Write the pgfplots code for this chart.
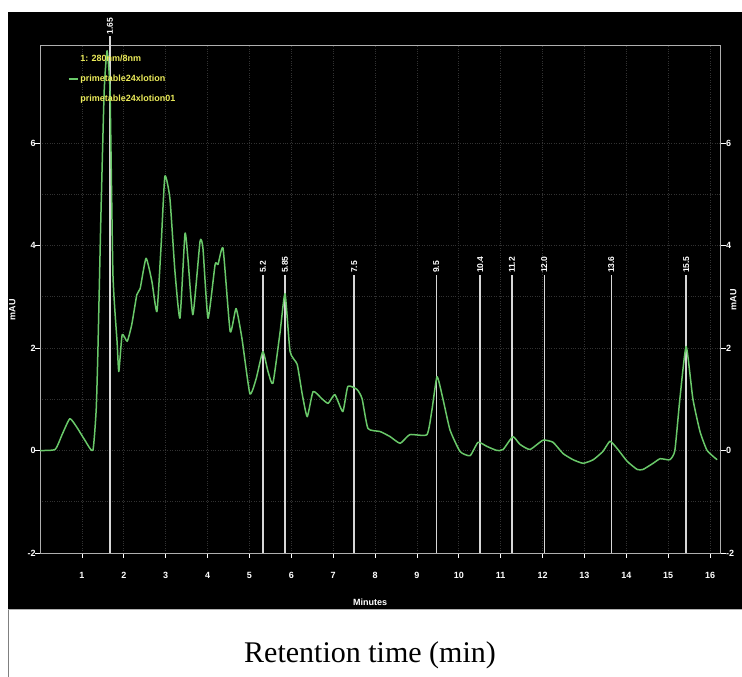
\documentclass[border=0pt]{standalone}
\usepackage{fontspec}
\setmainfont{Liberation Serif}
\newfontfamily\lsans{Liberation Sans}
\usepackage{pgfplots}
\usepackage{pgfplotstable}
\pgfplotsset{compat=1.18}

\definecolor{trace}{RGB}{105,200,105}
\definecolor{legyellow}{RGB}{235,235,90}
\definecolor{gridc}{RGB}{50,50,50}
\definecolor{axc}{RGB}{175,175,175}
\definecolor{vline}{RGB}{215,215,215}

\pgfplotstableread{
x y
0.00 0.00
0.36 0.02
0.52 0.30
0.71 0.62
0.88 0.45
1.07 0.20
1.26 0.00
1.34 0.80
1.38 1.93
1.45 4.50
1.53 7.00
1.60 7.80
1.67 7.00
1.74 3.43
1.84 2.10
1.88 1.54
1.96 2.26
2.08 2.13
2.19 2.46
2.31 3.04
2.39 3.16
2.53 3.75
2.67 3.30
2.79 2.71
2.89 4.00
2.98 5.35
3.10 4.92
3.22 3.50
3.34 2.58
3.46 4.23
3.53 3.75
3.65 2.65
3.82 4.08
3.89 3.94
4.01 2.58
4.18 3.63
4.25 3.63
4.37 3.94
4.54 2.32
4.68 2.77
4.82 2.19
5.01 1.11
5.16 1.40
5.32 1.93
5.44 1.55
5.56 1.31
5.73 2.30
5.85 3.06
5.97 1.93
6.14 1.68
6.26 1.10
6.38 0.66
6.52 1.15
6.73 1.01
6.88 0.92
7.04 1.09
7.23 0.76
7.35 1.25
7.57 1.19
7.69 1.01
7.83 0.43
8.12 0.37
8.36 0.27
8.60 0.14
8.83 0.31
9.24 0.31
9.36 0.80
9.48 1.44
9.62 1.01
9.79 0.40
10.03 -0.02
10.27 -0.10
10.46 0.16
10.67 0.08
10.91 0.00
11.06 0.02
11.29 0.27
11.46 0.12
11.70 0.02
12.01 0.20
12.25 0.16
12.49 -0.06
12.73 -0.18
12.97 -0.25
13.21 -0.18
13.44 -0.02
13.61 0.18
13.78 0.04
14.02 -0.21
14.26 -0.37
14.40 -0.37
14.64 -0.25
14.81 -0.16
15.04 -0.18
15.16 0.00
15.28 1.01
15.43 2.03
15.59 1.01
15.76 0.37
15.93 0.00
16.17 -0.18
}\tracedata

\begin{document}
\begin{tikzpicture}[x=1pt,y=1pt]
\useasboundingbox (0,0) rectangle (742,677);
\fill[white] (0,0) rectangle (742,677);
\fill[black] (8,67) rectangle (742,665);
\draw[gray,line width=1pt] (8.5,0) -- (8.5,67);
\draw[gray!60,line width=1pt] (8,67) -- (742,67);

\begin{axis}[
  at={(40.1pt,124pt)}, anchor=south west, scale only axis,
  width=680.4pt, height=507.4pt,
  xmin=0, xmax=16.25, ymin=-2, ymax=7.9,
  xtick={1,...,16}, ytick={-2,0,2,4,6},
  minor y tick num=1,
  grid=both,
  major grid style={gridc, dotted, line width=0.8pt},
  minor grid style={gridc, dotted, line width=0.8pt},
  axis line style={axc, line width=0.8pt},
  tick style={white, line width=0.8pt},
  tick align=outside, major tick length=5pt, minor tick length=0pt,
  xtick pos=bottom, ytick pos=left,
  /pgf/number format/assume math mode=true,
  ticklabel style={font=\lsans\bfseries\fontsize{9}{10}\selectfont, text=white},
  xticklabel style={yshift=-11pt},
  yticklabel style={xshift=4pt},
  xlabel={Minutes},
  xlabel style={font=\lsans\bfseries\fontsize{9}{10}\selectfont, text=white,
    at={(axis description cs:0.485,-0.098)}, anchor=center},
  ylabel={mAU},
  ylabel style={font=\lsans\bfseries\fontsize{9}{10}\selectfont, text=white,
    at={(axis description cs:-0.041,0.479)}, anchor=center},
  clip=false,
  legend cell align=left,
  legend style={at={(axis description cs:0.036,0.99)}, anchor=north west,
    draw=none, fill=none, text=legyellow,
    font=\lsans\bfseries\fontsize{9}{10}\selectfont,
    row sep=8pt},
  legend image code/.code={\draw[#1] (-2pt,0pt) -- (7pt,0pt);},
]
\addlegendimage{empty legend}
\addlegendentry{1: 280nm/8nm}

% retention-time markers
\addplot[vline, line width=1.4pt, forget plot] coordinates {(1.67,-2) (1.67,8.08)}
  node[pos=1, rotate=90, anchor=west, inner sep=1pt, text=white, font=\lsans\bfseries\fontsize{8.5}{10}\selectfont] {1.65};
\addplot[vline, line width=1.4pt, forget plot] coordinates {(5.32,-2) (5.32,3.43)}
  node[pos=1, rotate=90, anchor=west, inner sep=1pt, text=white, font=\lsans\bfseries\fontsize{8.5}{10}\selectfont] {5.2};
\addplot[vline, line width=1.4pt, forget plot] coordinates {(5.85,-2) (5.85,3.43)}
  node[pos=1, rotate=90, anchor=west, inner sep=1pt, text=white, font=\lsans\bfseries\fontsize{8.5}{10}\selectfont] {5.85};
\addplot[vline, line width=1.4pt, forget plot] coordinates {(7.50,-2) (7.50,3.43)}
  node[pos=1, rotate=90, anchor=west, inner sep=1pt, text=white, font=\lsans\bfseries\fontsize{8.5}{10}\selectfont] {7.5};
\addplot[vline, line width=1.4pt, forget plot] coordinates {(9.46,-2) (9.46,3.43)}
  node[pos=1, rotate=90, anchor=west, inner sep=1pt, text=white, font=\lsans\bfseries\fontsize{8.5}{10}\selectfont] {9.5};
\addplot[vline, line width=1.4pt, forget plot] coordinates {(10.51,-2) (10.51,3.43)}
  node[pos=1, rotate=90, anchor=west, inner sep=1pt, text=white, font=\lsans\bfseries\fontsize{8.5}{10}\selectfont] {10.4};
\addplot[vline, line width=1.4pt, forget plot] coordinates {(11.27,-2) (11.27,3.43)}
  node[pos=1, rotate=90, anchor=west, inner sep=1pt, text=white, font=\lsans\bfseries\fontsize{8.5}{10}\selectfont] {11.2};
\addplot[vline, line width=1.4pt, forget plot] coordinates {(12.04,-2) (12.04,3.43)}
  node[pos=1, rotate=90, anchor=west, inner sep=1pt, text=white, font=\lsans\bfseries\fontsize{8.5}{10}\selectfont] {12.0};
\addplot[vline, line width=1.4pt, forget plot] coordinates {(13.64,-2) (13.64,3.43)}
  node[pos=1, rotate=90, anchor=west, inner sep=1pt, text=white, font=\lsans\bfseries\fontsize{8.5}{10}\selectfont] {13.6};
\addplot[vline, line width=1.4pt, forget plot] coordinates {(15.43,-2) (15.43,3.43)}
  node[pos=1, rotate=90, anchor=west, inner sep=1pt, text=white, font=\lsans\bfseries\fontsize{8.5}{10}\selectfont] {15.5};

\addplot[trace, line width=1.5pt, line join=round, smooth, tension=0.3] table[x=x, y=y] {\tracedata};
\addlegendentry{primetable24xlotion}
\addlegendimage{empty legend}
\addlegendentry{primetable24xlotion01}
\end{axis}

\begin{axis}[
  at={(40.1pt,124pt)}, anchor=south west, scale only axis,
  width=680.4pt, height=507.4pt,
  xmin=0, xmax=16.25, ymin=-2, ymax=7.9,
  axis x line=none, axis y line*=right,
  ytick={-2,0,2,4,6},
  axis line style={axc, line width=0.8pt},
  tick style={white, line width=0.8pt},
  tick align=outside, major tick length=5pt,
  /pgf/number format/assume math mode=true,
  ticklabel style={font=\lsans\bfseries\fontsize{9}{10}\selectfont, text=white},
  yticklabel style={xshift=-3pt},
  ylabel={mAU},
  ylabel style={font=\lsans\bfseries\fontsize{9}{10}\selectfont, text=white,
    at={(axis description cs:1.019,0.499)}, anchor=center},
]
\addplot[draw=none, forget plot] coordinates {(0,0) (16,0)};
\end{axis}

\node[font=\fontsize{30}{36}\selectfont, text=black] at (370,22) {Retention time (min)};
\end{tikzpicture}
\end{document}
